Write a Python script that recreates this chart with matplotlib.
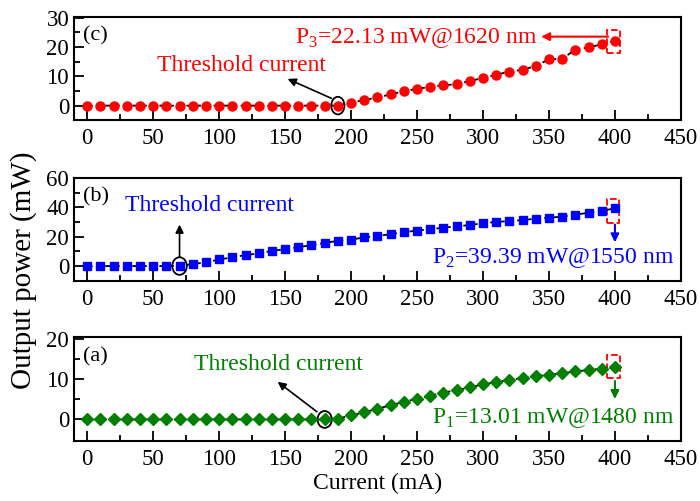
import numpy as np
import matplotlib
matplotlib.use('Agg')
import matplotlib.pyplot as plt
from matplotlib.patches import Ellipse, Rectangle

plt.rcParams['font.family'] = 'Liberation Serif'
plt.rcParams['mathtext.fontset'] = 'custom'
plt.rcParams['mathtext.rm'] = 'Liberation Serif'

current = list(range(0, 410, 10))

# panel (c), 1620 nm
power_c = [0.0] * 20 + [1.0, 1.9, 2.8, 3.8, 4.9, 5.7, 6.4, 6.9, 7.3, 8.4, 9.4,
                        10.5, 11.6, 12.2, 13.5, 15.8, 15.9, 19.1, 19.8, 20.9, 22.13]
# panel (b), 1550 nm
power_b = [0.0] * 8 + [1.4, 2.5, 4.5, 5.9, 7.5, 8.6, 10.4, 11.5, 12.9, 14.2, 15.8,
                       17.2, 18.1, 19.5, 20.6, 21.7, 23.1, 24.2, 25.1, 26.2, 27.1,
                       28.0, 29.2, 30.1, 30.7, 31.4, 32.3, 33.0, 33.7, 35.0, 36.4,
                       37.7, 39.39]
# panel (a), 1480 nm
power_a = [0.0] * 19 + [0.2, 1.0, 1.75, 2.7, 3.5, 4.4, 5.2, 5.9, 6.7, 7.3, 8.0,
                        8.75, 9.3, 9.9, 10.3, 10.75, 11.2, 11.5, 12.0, 12.3, 12.7, 13.01]

fig = plt.figure(figsize=(7.0, 5.01), dpi=100)
L, W = 0.1057, 0.867
ax_c = fig.add_axes([L, 0.7605, W, 0.2062])
ax_b = fig.add_axes([L, 0.4397, W, 0.2056])
ax_a = fig.add_axes([L, 0.1204, W, 0.2064])

FS = 16.5
TFS = 17
green = '#007f00'


def style(ax, ylim, major, minor):
    ax.set_xlim(-10, 450)
    ax.set_ylim(*ylim)
    ax.set_xticks(range(0, 451, 50))
    ax.set_xticks(range(25, 451, 50), minor=True)
    ax.set_yticks(major)
    ax.set_yticks(minor, minor=True)
    ax.tick_params(which='both', direction='in', top=False, right=False,
                   labelsize=FS, width=1.3)
    ax.tick_params(which='major', length=7)
    ax.tick_params(which='minor', length=4)
    ax.tick_params(axis='x', pad=6)
    for s in ax.spines.values():
        s.set_linewidth(1.5)


# (c)
ax_c.plot(current, power_c, color='k', ls='--', lw=1.3, dashes=(3, 2),
          marker='o', ms=6.5, mfc='red', mec='red')
style(ax_c, (-4.9, 30.3), [0, 10, 20, 30], [5, 15, 25])
ax_c.text(0.015, 0.81, '(c)', transform=ax_c.transAxes, fontsize=16, va='center')
ax_c.text(117, 13.6, 'Threshold current', color='red', fontsize=TFS, ha='center', va='center')
ax_c.annotate('', xy=(150, 9.5), xytext=(187, 2.1),
              arrowprops=dict(arrowstyle='-|>', color='k', lw=1.2, mutation_scale=12))
ax_c.add_patch(Ellipse((190, 0), 10, 6, fill=False, ec='k', lw=1.3))
ax_c.text(341, 21.4, 'P$_3$=22.13 mW@1620 nm', color='red', fontsize=TFS, ha='right', va='baseline')
ax_c.annotate('', xy=(342, 23.5), xytext=(397, 23.5),
              arrowprops=dict(arrowstyle='-|>', color='red', lw=1.5, mutation_scale=12))
ax_c.add_patch(Rectangle((394, 17.8), 10, 7.8, fill=False, ec='red', ls='--', lw=1.3))

# (b)
ax_b.plot(current, power_b, color='k', ls='--', lw=1.3, dashes=(3, 2),
          marker='s', ms=5.3, mfc='blue', mec='blue')
style(ax_b, (-10, 60.3), [0, 20, 40, 60], [10, 30, 50])
ax_b.text(0.015, 0.81, '(b)', transform=ax_b.transAxes, fontsize=16, va='center')
ax_b.text(28.7, 41.6, 'Threshold current', color='blue', fontsize=TFS, ha='left', va='center')
ax_b.annotate('', xy=(70, 30.2), xytext=(70, 4.5),
              arrowprops=dict(arrowstyle='-|>', color='k', lw=1.2, mutation_scale=12))
ax_b.add_patch(Ellipse((70, 0), 11, 12, fill=False, ec='k', lw=1.3))
ax_b.text(445, 1.8, 'P$_2$=39.39 mW@1550 nm', color='blue', fontsize=TFS, ha='right', va='baseline')
ax_b.annotate('', xy=(400, 14.3), xytext=(400, 30.2),
              arrowprops=dict(arrowstyle='-|>', color='blue', lw=1.5, mutation_scale=12))
ax_b.add_patch(Rectangle((394, 29.6), 9.4, 15.9, fill=False, ec='red', ls='--', lw=1.3))

# (a)
ax_a.plot(current, power_a, color='k', ls='--', lw=1.3, dashes=(3, 1),
          marker='D', ms=6, mfc=green, mec=green)
style(ax_a, (-5.3, 20.5), [0, 10, 20], [5, 15])
ax_a.text(0.015, 0.81, '(a)', transform=ax_a.transAxes, fontsize=16, va='center')
ax_a.text(144.6, 13.6, 'Threshold current', color=green, fontsize=TFS, ha='center', va='center')
ax_a.annotate('', xy=(142.7, 9.8), xytext=(175.8, 1.5),
              arrowprops=dict(arrowstyle='-|>', color='k', lw=1.2, mutation_scale=12))
ax_a.add_patch(Ellipse((180, 0), 10.8, 4.2, fill=False, ec='k', lw=1.3))
ax_a.text(445, -1.0, 'P$_1$=13.01 mW@1480 nm', color=green, fontsize=TFS, ha='right', va='baseline')
ax_a.annotate('', xy=(400, 4.4), xytext=(400, 10.3),
              arrowprops=dict(arrowstyle='-|>', color=green, lw=1.5, mutation_scale=12))
ax_a.add_patch(Rectangle((394, 10.25), 10, 5.85, fill=False, ec='red', ls='--', lw=1.3))
ax_a.set_xlabel('Current (mA)', fontsize=17, labelpad=2)

fig.text(0.033, 0.46, 'Output power (mW)', rotation=90, fontsize=21, ha='center', va='center')

fig.savefig('out.png', dpi=100)
